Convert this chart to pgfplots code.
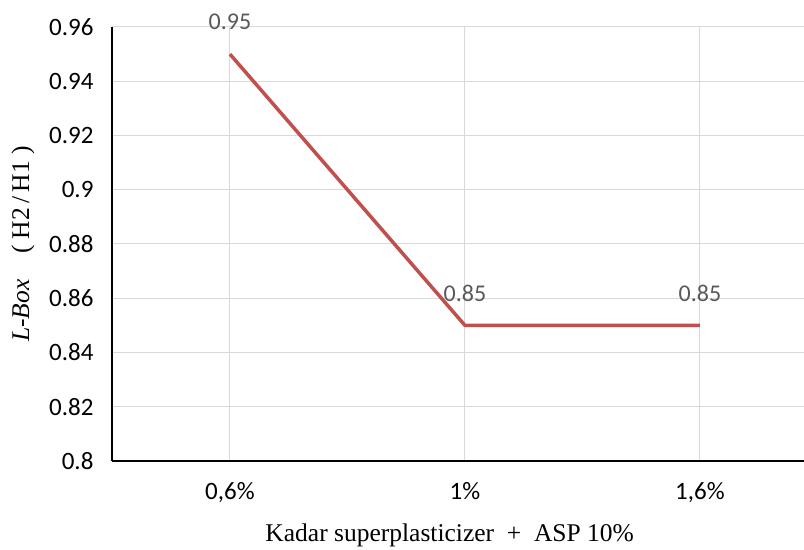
\documentclass[border=0pt]{standalone}
\usepackage{pgfplots}
\pgfplotsset{compat=1.18}
\usepackage{fontspec}
\setmainfont{Liberation Serif}
\newfontfamily\calib{Carlito}
\definecolor{linered}{HTML}{C0504D}
\definecolor{gridgray}{HTML}{D9D9D9}
\definecolor{labgray}{HTML}{595959}
\begin{document}
\begin{tikzpicture}
\begin{axis}[
  scale only axis,
  width=692bp, height=434bp,
  xmin=-0.502, xmax=2.443,
  ymin=0.8, ymax=0.96,
  ytick={0.8,0.82,0.84,0.86,0.88,0.9,0.92,0.94,0.96},
  xtick={0,1,2},
  xticklabels={0{,}6\%,1\%,1{,}6\%},
  axis x line*=bottom, axis y line*=left,
  axis line style={black, line width=2bp, -},
  major tick length=0pt,
  grid=major,
  major grid style={gridgray, line width=1bp},
  /pgf/number format/assume math mode=true,
  ticklabel style={font=\calib\fontsize{25bp}{29bp}\selectfont, text=black},
  yticklabel style={xshift=-15bp},
  xticklabel style={yshift=-18bp},
  xlabel={Kadar superplasticizer\ \ +\ \ ASP 10\%},
  ylabel={\textit{L-Box}\ \ \ \ ( H2\,/\,H1 )},
  label style={font=\fontsize{25.5bp}{29bp}\selectfont},
  xlabel style={at={(axis description cs:0.488,-0.172)}, anchor=center},
  ylabel style={at={(axis description cs:-0.1285,0.5)}, anchor=center},
  clip=false,
  nodes near coords,
  every node near coord/.append style={anchor=center, yshift=32bp, font=\calib\fontsize{24bp}{28bp}\selectfont, text=labgray},
]
\addplot[linered, line width=3.5bp, mark=none] coordinates {(0,0.95) (1,0.85) (2,0.85)};
\coordinate (sw) at (rel axis cs:0,0);
\coordinate (ne) at (rel axis cs:1,1);
\end{axis}
\pgfresetboundingbox
\path[use as bounding box] ([shift={(-112bp,-89bp)}]sw) rectangle ([shift={(0bp,27bp)}]ne);
\end{tikzpicture}
\end{document}
